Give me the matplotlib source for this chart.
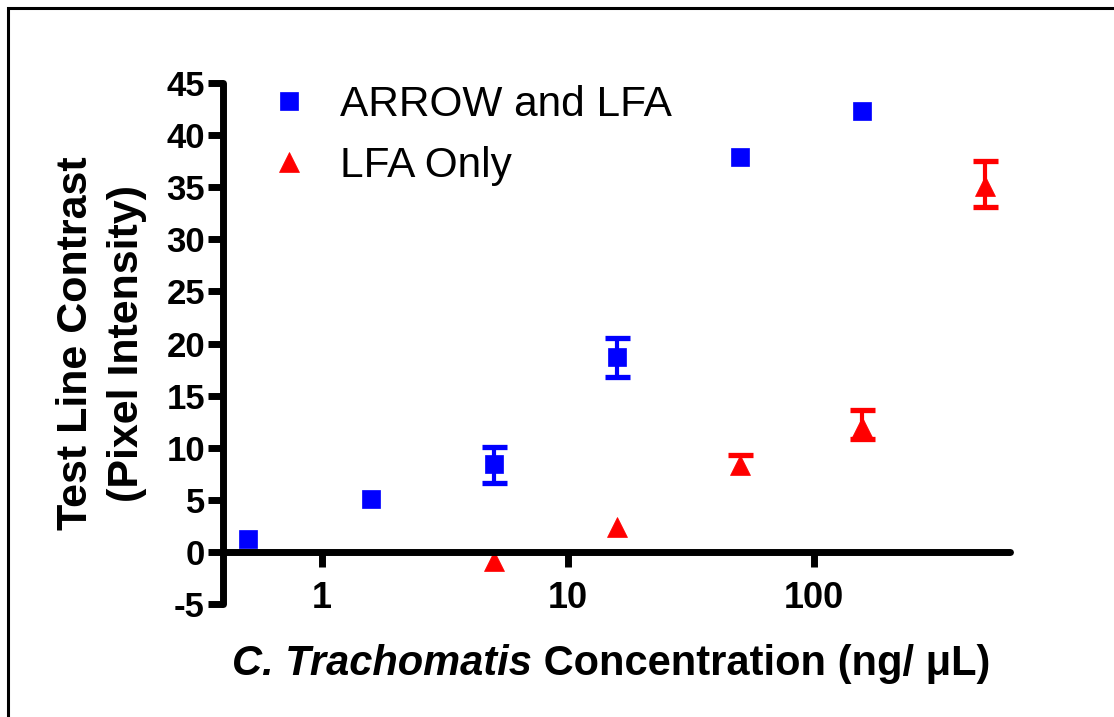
import numpy as np
import matplotlib
matplotlib.use("Agg")
import matplotlib.pyplot as plt
from matplotlib.patches import Rectangle
from matplotlib.ticker import NullLocator

# ----- data ----- #
conc_arrow = [0.5, 1.58, 5, 15.8, 50, 158]
arrow_lfa = [1.25, 5.1, 8.4, 18.7, 37.9, 42.3]
arrow_err_lo = [np.nan, np.nan, 1.8, 1.9, np.nan, np.nan]
arrow_err_hi = [np.nan, np.nan, 1.7, 1.8, np.nan, np.nan]

conc_lfa = [5, 15.8, 50, 158, 500]
lfa_only = [-0.9, 2.4, 8.35, 11.95, 35.1]
lfa_err_lo = [np.nan, np.nan, np.nan, 1.1, 2.0]
lfa_err_hi = [np.nan, np.nan, 0.95, 1.65, 2.4]

x_ticks = [1, 10, 100]
x_tick_labels = ["1", "10", "100"]
y_ticks = list(range(-5, 50, 5))

BLUE = "#0000FF"
RED = "#FF0000"

plt.rcParams["font.family"] = ["Liberation Sans", "DejaVu Sans"]
plt.rcParams["axes.unicode_minus"] = False

fig = plt.figure(figsize=(11.14, 7.17), dpi=100)
ax = fig.add_axes([0.2002, 0.1576, 0.7065, 0.7266])

# thin frame around the figure
fig.add_artist(Rectangle((0.0072, -0.2), 1.5, 0.9888 + 0.2, transform=fig.transFigure,
                         fill=False, lw=2.2, ec="black"))


def draw_series(x, y, lo, hi, marker, ms, color, label):
    cont = ax.errorbar(x, y, yerr=[lo, hi], fmt="none", ecolor=color,
                       elinewidth=3, capsize=9, capthick=3.8, clip_on=False)
    for coll in cont[2]:
        coll.set_capstyle("round")
    line, = ax.plot(x, y, ls="none", marker=marker, ms=ms, color=color,
                    mec=color, mew=0.5, label=label, clip_on=False, zorder=3)
    return line


h1 = draw_series(conc_arrow, arrow_lfa, arrow_err_lo, arrow_err_hi, "s", 13, BLUE, "ARROW and LFA")
h2 = draw_series(conc_lfa, lfa_only, lfa_err_lo, lfa_err_hi, "^", 14.5, RED, "LFA Only")

ax.set_xscale("log")
ax.set_xlim(0.395, 630)
ax.set_ylim(-5, 45)
ax.set_xticks(x_ticks)
ax.set_xticklabels(x_tick_labels)
ax.xaxis.set_minor_locator(NullLocator())
ax.set_yticks(y_ticks)

for s in ["top", "right"]:
    ax.spines[s].set_visible(False)
ax.spines["bottom"].set_position(("data", 0))
for s in ["left", "bottom"]:
    ax.spines[s].set_linewidth(5)
    ax.spines[s].set_capstyle("round")
    ax.spines[s].set_zorder(4)

ax.tick_params(axis="both", direction="out", length=11, width=5)
ax.tick_params(axis="x", pad=10, labelsize=26)
ax.tick_params(axis="y", pad=2, labelsize=25)
for lab in ax.get_xticklabels() + ax.get_yticklabels():
    lab.set_fontweight("bold")

# axis titles
ax.set_ylabel("Test Line Contrast\n(Pixel Intensity)", fontsize=31, fontweight="bold",
              linespacing=1.35)
ax.yaxis.set_label_coords(-0.097, 0.5)

t1 = fig.text(232 / 1114, 1 - 675 / 717, "C. Trachomatis", fontsize=30,
              fontweight="bold", style="italic", va="baseline", ha="left")
ax.annotate(" Concentration (ng/ \u03bcL)", xy=(1, 0), xycoords=t1, fontsize=30,
            fontweight="bold", va="bottom", ha="left")

leg = ax.legend(handles=[h1, h2], labels=["ARROW and LFA", "LFA Only"],
                loc="upper left", bbox_to_anchor=(268 / 1114, 1 - 85 / 717),
                bbox_transform=fig.transFigure, frameon=False, fontsize=30.5,
                handlelength=1.0, handletextpad=0.7, labelspacing=0.5,
                borderpad=0, borderaxespad=0, numpoints=1)

fig.savefig("out.png", dpi=100)
